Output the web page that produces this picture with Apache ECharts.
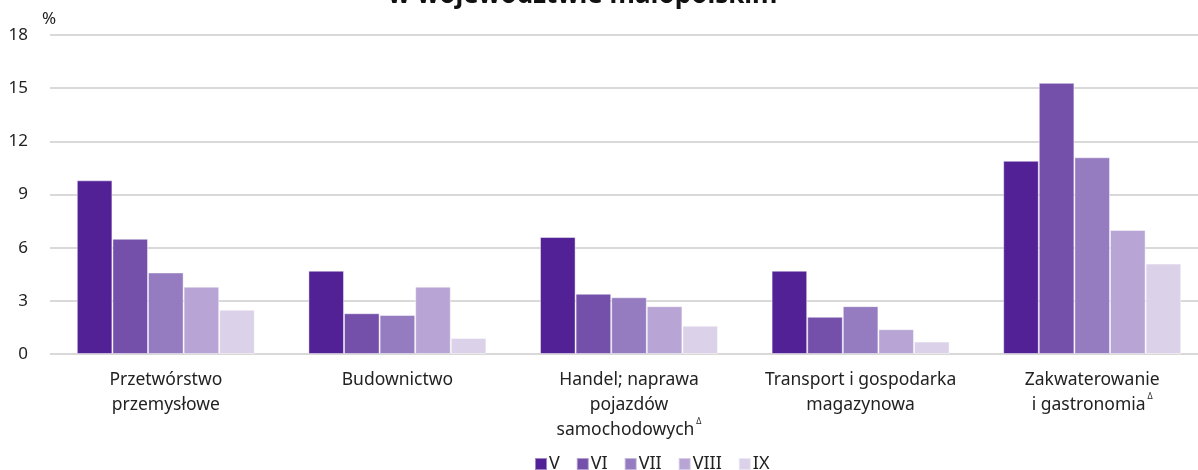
<!DOCTYPE html>
<html>
<head>
<meta charset="utf-8">
<script src="https://cdn.jsdelivr.net/npm/echarts@6/dist/echarts.min.js"></script>
<style>
  html, body { margin: 0; padding: 0; background: #fff; overflow: hidden; }
  #chart { width: 1208px; height: 470px; }
</style>
</head>
<body>
<div id="chart"></div>
<script>
const categories = [
  "Przetwórstwo\nprzemysłowe",
  "Budownictwo",
  "Handel; naprawa\npojazdów\nsamochodowych{sup|Δ}",
  "Transport i gospodarka\nmagazynowa",
  "Zakwaterowanie\ni gastronomia{sup|Δ}"
];
const months = ["V", "VI", "VII", "VIII", "IX"];
const valV    = [9.8, 4.7, 6.6, 4.7, 10.9];
const valVI   = [6.5, 2.3, 3.4, 2.1, 15.3];
const valVII  = [4.6, 2.2, 3.2, 2.7, 11.1];
const valVIII = [3.8, 3.8, 2.7, 1.4, 7.0];
const valIX   = [2.5, 0.9, 1.6, 0.7, 5.1];
const colors = ["#522196", "#7450aa", "#957bbf", "#b8a5d5", "#dbd2e9"];

const allVals = [valV, valVI, valVII, valVIII, valIX];
const font = "'Noto Sans', sans-serif";

const chart = echarts.init(document.getElementById("chart"));
chart.setOption({
  animation: false,
  textStyle: {fontFamily: font},
  title: {
    text: "w województwie małopolskim",
    left: 383,
    top: -22,
    textStyle: {fontSize: 26, fontWeight: "bold", color: "#111", fontFamily: font}
  },
  grid: {left: 50, right: 0, top: 35, bottom: 116, containLabel: false},
  legend: {
    left: 529,
    top: 450,
    itemWidth: 12,
    itemHeight: 12,
    itemGap: 16,
    icon: "rect",
    textStyle: {fontSize: 18, color: "#222", padding: [0, 0, 0, -3]},
    data: months
  },
  xAxis: {
    type: "category",
    data: categories,
    axisLine: {show: false},
    axisTick: {show: false},
    axisLabel: {
      interval: 0,
      margin: 14,
      fontSize: 17.5,
      lineHeight: 25,
      color: "#222",
      rich: {
        sup: {fontSize: 8, verticalAlign: "top", padding: [0, 0, 4, 2], color: "#222"}
      }
    }
  },
  yAxis: {
    type: "value",
    min: 0,
    max: 18,
    interval: 3,
    name: "%",
    nameLocation: "end",
    nameGap: 7,
    nameTextStyle: {fontSize: 17, color: "#222", align: "left", padding: [0, 0, 0, -8]},
    axisLine: {show: false},
    axisTick: {show: false},
    axisLabel: {fontSize: 17, color: "#222", margin: 22},
    splitLine: {lineStyle: {color: "#d9d9d9", width: 2}}
  },
  series: months.map((m, i) => ({
    name: m,
    type: "bar",
    data: allVals[i],
    barWidth: 35.6,
    barGap: "0%",
    itemStyle: {color: colors[i], borderColor: "rgba(255,255,255,0.45)", borderWidth: 1}
  }))
});
</script>
</body>
</html>
